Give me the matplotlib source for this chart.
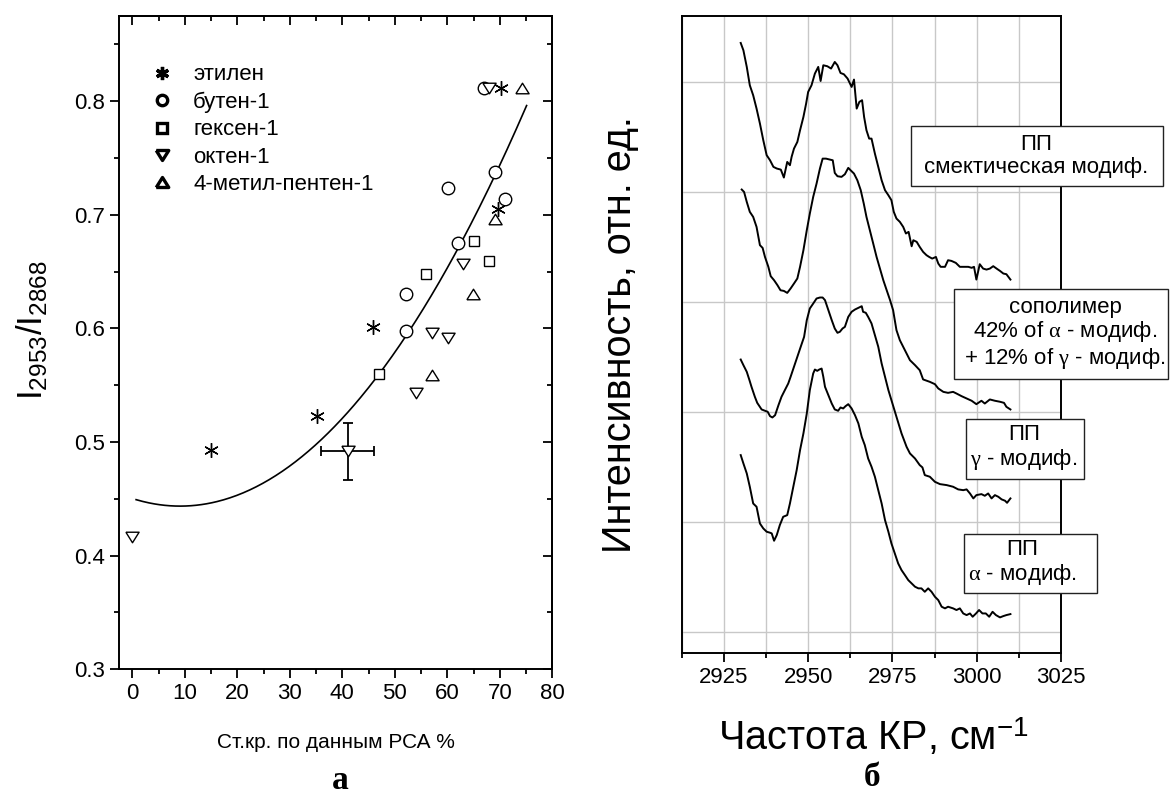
import numpy as np
import matplotlib
matplotlib.use("Agg")
import matplotlib.pyplot as plt
from matplotlib.lines import Line2D
from matplotlib.patches import Rectangle
from matplotlib.ticker import MultipleLocator

plt.rcParams["font.family"] = ["Liberation Sans", "DejaVu Sans"]
plt.rcParams["mathtext.fontset"] = "custom"
plt.rcParams["mathtext.rm"] = "Liberation Serif"
plt.rcParams["mathtext.it"] = "Liberation Serif:italic"
plt.rcParams["mathtext.bf"] = "Liberation Serif:bold"
plt.rcParams["mathtext.sf"] = "Liberation Sans"

# ---------------- panel (а): band ratio vs. crystallinity ----------------
ethylene_x = [15.0, 35.1, 45.9, 69.7, 70.3]
ethylene_y = [0.493, 0.523, 0.601, 0.705, 0.812]
butene_x = [52.1, 52.1, 60.1, 62.0, 67.0, 69.1, 71.0]
butene_y = [0.598, 0.630, 0.724, 0.675, 0.812, 0.738, 0.714]
hexene_x = [47.05, 55.9, 65.1, 68.0]
hexene_y = [0.560, 0.648, 0.677, 0.659]
octene_x = [0.0, 54.0, 57.0, 60.1, 63.05, 68.0]
octene_y = [0.416, 0.543, 0.596, 0.592, 0.657, 0.812]
mp_x = [57.0, 64.95, 69.1, 74.2]
mp_y = [0.559, 0.630, 0.696, 0.812]

# octene-1 point shown with its uncertainty
err_x, err_y = 41.0, 0.492
err_dx, err_dy = 5.0, 0.025

# quadratic trend (highest power first) and its x-range
fit_coef = [8.09e-5, -1.47e-3, 0.4503]
fit_range = (0.7, 75.1)

legend_labels = ["этилен", "бутен-1", "гексен-1", "октен-1", "4-метил-пентен-1"]

# ---------------- panel (б): Raman spectra ----------------
smectic_x = [2930.0, 2930.8, 2931.8, 2932.7, 2933.7, 2934.7, 2935.7, 2936.7, 2937.7, 2938.7,
             2939.7, 2940.7, 2941.9, 2942.8, 2943.8, 2944.6, 2945.1, 2945.8, 2946.8, 2947.6,
             2948.6, 2949.4, 2950.0, 2951.0, 2952.0, 2953.0, 2953.7, 2954.5, 2955.7, 2956.8,
             2957.9, 2958.7, 2959.6, 2960.6, 2961.7, 2962.9, 2963.6, 2964.4, 2965.2, 2966.0,
             2966.6, 2967.3, 2968.1, 2968.8, 2969.8, 2970.8, 2971.8, 2972.8, 2973.8, 2974.7,
             2975.4, 2976.2, 2977.2, 2978.2, 2979.0, 2979.8, 2980.7, 2981.2, 2982.2, 2983.1,
             2984.1, 2985.1, 2985.9, 2986.8, 2987.9, 2988.6, 2989.3, 2990.6, 2991.5, 2992.5,
             2993.8, 2995.0, 2996.3, 2997.5, 2998.5, 2999.2, 2999.9, 3000.9, 3001.9, 3002.9,
             3003.9, 3004.9, 3005.9, 3006.9, 3007.9, 3008.8, 3010.0]
smectic_y = [5.355, 5.288, 5.137, 4.970, 4.879, 4.758, 4.622, 4.470, 4.334, 4.288,
             4.228, 4.213, 4.203, 4.131, 4.273, 4.243, 4.319, 4.394, 4.455, 4.561,
             4.682, 4.803, 4.909, 4.970, 5.076, 5.137, 5.009, 5.152, 5.143, 5.122,
             5.182, 5.152, 5.082, 5.070, 5.031, 4.955, 5.022, 4.758, 4.819, 4.834,
             4.682, 4.561, 4.485, 4.485, 4.349, 4.228, 4.106, 4.016, 3.970, 3.925,
             3.819, 3.758, 3.728, 3.682, 3.622, 3.637, 3.506, 3.561, 3.546, 3.500,
             3.455, 3.425, 3.409, 3.394, 3.409, 3.349, 3.319, 3.319, 3.379, 3.373,
             3.355, 3.319, 3.319, 3.319, 3.310, 3.319, 3.203, 3.343, 3.303, 3.294,
             3.303, 3.325, 3.303, 3.282, 3.258, 3.252, 3.203]

copoly_x = [2930.3, 2931.0, 2931.8, 2932.7, 2933.7, 2934.7, 2935.7, 2936.5, 2937.2, 2938.2,
            2938.9, 2939.9, 2940.9, 2941.8, 2942.8, 2943.8, 2944.8, 2945.8, 2946.8, 2947.6,
            2948.6, 2949.6, 2950.5, 2951.5, 2952.5, 2953.5, 2954.3, 2955.3, 2956.5, 2957.3,
            2957.9, 2958.7, 2959.9, 2960.9, 2961.9, 2962.6, 2963.6, 2964.6, 2965.6, 2966.5,
            2967.3, 2968.3, 2969.3, 2970.3, 2971.3, 2972.3, 2973.3, 2974.3, 2975.2, 2976.2,
            2977.2, 2978.7, 2980.2, 2981.7, 2983.1, 2984.1, 2986.1, 2987.6, 2988.6, 2990.1,
            2991.5, 2993.0, 2994.0, 2995.5, 2997.0, 2998.5, 2999.9, 3001.4, 3002.4, 3003.9,
            3005.4, 3006.9, 3008.1, 3008.8, 3010.0]
copoly_y = [4.022, 4.000, 3.909, 3.819, 3.773, 3.682, 3.516, 3.491, 3.409, 3.319,
            3.234, 3.197, 3.152, 3.106, 3.100, 3.082, 3.122, 3.167, 3.213, 3.319,
            3.470, 3.652, 3.803, 3.955, 4.076, 4.213, 4.303, 4.303, 4.294, 4.288,
            4.173, 4.143, 4.137, 4.161, 4.219, 4.197, 4.167, 4.106, 4.016, 3.894,
            3.773, 3.652, 3.531, 3.409, 3.303, 3.197, 3.106, 3.016, 2.925, 2.743,
            2.652, 2.561, 2.470, 2.425, 2.379, 2.295, 2.273, 2.252, 2.213, 2.182,
            2.173, 2.182, 2.167, 2.143, 2.122, 2.101, 2.070, 2.101, 2.076, 2.113,
            2.101, 2.092, 2.082, 2.046, 2.022]

gamma_x = [2930.0, 2930.8, 2931.8, 2932.6, 2933.2, 2934.2, 2934.9, 2936.2, 2937.2, 2938.0,
           2938.7, 2939.4, 2940.2, 2941.2, 2942.1, 2943.1, 2944.1, 2944.8, 2945.8, 2946.8,
           2947.8, 2948.8, 2949.6, 2950.5, 2951.5, 2952.5, 2953.5, 2954.3, 2955.0, 2956.0,
           2957.0, 2957.9, 2958.7, 2959.4, 2960.2, 2960.9, 2961.9, 2962.9, 2963.9, 2964.9,
           2965.9, 2966.3, 2967.1, 2967.8, 2968.8, 2969.8, 2970.8, 2971.8, 2972.8, 2973.8,
           2974.7, 2976.2, 2977.7, 2979.2, 2980.2, 2981.7, 2983.1, 2983.9, 2984.6, 2986.1,
           2987.6, 2989.1, 2991.1, 2993.0, 2994.5, 2996.0, 2997.0, 2998.0, 2999.0, 2999.9,
           3001.4, 3002.4, 3003.4, 3004.4, 3005.4, 3006.4, 3007.4, 3008.4, 3009.0, 3010.0]
gamma_y = [2.476, 2.425, 2.364, 2.288, 2.228, 2.137, 2.082, 2.022, 2.010, 2.001,
           1.961, 1.949, 1.970, 2.061, 2.137, 2.198, 2.258, 2.319, 2.410, 2.501,
           2.592, 2.682, 2.834, 2.940, 2.985, 3.031, 3.040, 3.040, 3.016, 2.925,
           2.834, 2.758, 2.719, 2.728, 2.758, 2.773, 2.864, 2.910, 2.931, 2.946,
           2.961, 2.910, 2.901, 2.864, 2.804, 2.698, 2.592, 2.440, 2.319, 2.198,
           2.107, 1.955, 1.804, 1.682, 1.622, 1.576, 1.516, 1.495, 1.425, 1.410,
           1.364, 1.343, 1.334, 1.319, 1.295, 1.288, 1.295, 1.258, 1.213, 1.243,
           1.252, 1.237, 1.258, 1.213, 1.243, 1.228, 1.204, 1.192, 1.173, 1.213]

alpha_x = [2930.0, 2930.8, 2931.8, 2932.7, 2933.7, 2934.7, 2935.7, 2936.7, 2937.7, 2938.7,
           2939.2, 2939.9, 2940.7, 2941.6, 2942.6, 2943.8, 2944.6, 2945.6, 2946.6, 2947.6,
           2948.6, 2949.6, 2950.5, 2951.5, 2952.0, 2952.7, 2953.3, 2954.0, 2954.5, 2955.0,
           2956.0, 2957.0, 2957.9, 2958.9, 2959.6, 2960.4, 2961.1, 2961.9, 2962.9, 2963.9,
           2964.9, 2965.9, 2966.8, 2967.8, 2968.8, 2969.8, 2970.8, 2971.8, 2972.8, 2973.8,
           2974.7, 2975.7, 2976.7, 2977.7, 2978.7, 2979.7, 2980.7, 2981.7, 2982.7, 2983.6,
           2984.6, 2985.6, 2986.6, 2987.6, 2988.6, 2989.6, 2990.6, 2991.5, 2993.0, 2994.0,
           2995.0, 2996.0, 2997.0, 2998.0, 2998.8, 2999.8, 3000.7, 3001.7, 3002.7, 3003.7,
           3004.7, 3005.7, 3006.9, 3007.9, 3008.8, 3010.0]
alpha_y = [1.607, 1.531, 1.440, 1.319, 1.167, 1.137, 0.985, 0.940, 0.910, 0.901,
           0.895, 0.828, 0.880, 0.970, 1.046, 1.061, 1.167, 1.319, 1.470, 1.652,
           1.804, 1.985, 2.198, 2.349, 2.385, 2.373, 2.385, 2.394, 2.319, 2.228,
           2.152, 2.076, 2.022, 2.010, 2.040, 2.031, 2.052, 2.070, 2.031, 1.970,
           1.895, 1.773, 1.698, 1.576, 1.501, 1.410, 1.288, 1.167, 1.016, 0.910,
           0.804, 0.713, 0.622, 0.561, 0.516, 0.470, 0.440, 0.410, 0.395, 0.395,
           0.364, 0.395, 0.364, 0.319, 0.288, 0.228, 0.213, 0.228, 0.213, 0.198,
           0.213, 0.167, 0.152, 0.167, 0.137, 0.167, 0.198, 0.167, 0.167, 0.137,
           0.182, 0.152, 0.131, 0.143, 0.152, 0.161]

box_texts = [
    "ПП\nсмектическая модиф.",
    "сополимер\n42% of $\\mathrm{\\alpha}$ - модиф.\n+ 12% of $\\mathrm{\\gamma}$ - модиф.",
    "ПП\n$\\mathrm{\\gamma}$ - модиф.",
    "ПП\n$\\mathrm{\\alpha}$ - модиф.",
]

FS = 16

fig = plt.figure(figsize=(11.7, 7.96), dpi=100)

# ======================= panel (а) =======================
axA = fig.add_axes([0.10197, 0.15918, 0.37009, 0.82072])

tri_down = [(-1.0, 0.8), (1.0, 0.8), (0.0, -0.8), (-1.0, 0.8)]
tri_up = [(-1.0, -0.8), (1.0, -0.8), (0.0, 0.8), (-1.0, -0.8)]
mk = dict(ls="none", mfc="white", mec="black", mew=1.0)

xf = np.linspace(fit_range[0], fit_range[1], 300)
axA.plot(xf, np.polyval(fit_coef, xf), color="black", lw=1.2, zorder=2)

axA.errorbar([err_x], [err_y], xerr=[err_dx], yerr=[err_dy], fmt="none",
             ecolor="black", elinewidth=1.3, capsize=3.5, capthick=1.3, zorder=3)
axA.plot([err_x], [err_y], marker=tri_down, ms=9.5, zorder=4, **mk)

axA.plot(hexene_x, hexene_y, marker="s", ms=7.0, zorder=4, **mk)
axA.plot(butene_x, butene_y, marker="o", ms=9.0, zorder=4, **mk)
axA.plot(octene_x, octene_y, marker=tri_down, ms=9.5, zorder=4, **mk)
axA.plot(mp_x, mp_y, marker=tri_up, ms=9.5, zorder=4, **mk)
axA.plot(ethylene_x, ethylene_y, ls="none", marker=(6, 2, 0), ms=10.5,
         mec="black", mew=1.0, zorder=5)

handles = [
    Line2D([], [], ls="none", marker=(6, 2, 0), ms=9.5, mec="black", mew=2.4),
    Line2D([], [], ls="none", marker="o", ms=7.5, mfc="none", mec="black", mew=2.4),
    Line2D([], [], ls="none", marker="s", ms=6.5, mfc="none", mec="black", mew=2.4),
    Line2D([], [], ls="none", marker=tri_down, ms=9.0, mfc="none", mec="black", mew=2.4),
    Line2D([], [], ls="none", marker=tri_up, ms=9.0, mfc="none", mec="black", mew=2.4),
]
axA.legend(handles, legend_labels, loc="upper left", bbox_to_anchor=(0.0723, 0.926),
           frameon=False, fontsize=FS, handlelength=1.0, handletextpad=0.91,
           labelspacing=0.285, borderpad=0.0, borderaxespad=0.0)

axA.set_xlim(-2.5, 80)
axA.set_ylim(0.3, 0.875)
axA.xaxis.set_major_locator(MultipleLocator(10))
axA.xaxis.set_minor_locator(MultipleLocator(5))
axA.yaxis.set_major_locator(MultipleLocator(0.1))
axA.yaxis.set_minor_locator(MultipleLocator(0.05))
axA.tick_params(which="both", direction="out", width=1.3, labelsize=FS)
axA.tick_params(which="major", length=6.5)
axA.tick_params(which="minor", length=3.3)
for s in axA.spines.values():
    s.set_linewidth(1.4)

# mirrored inward ticks on the top and right edges
topA = axA.secondary_xaxis("top")
topA.xaxis.set_major_locator(MultipleLocator(10))
topA.xaxis.set_minor_locator(MultipleLocator(5))
rightA = axA.secondary_yaxis("right")
rightA.yaxis.set_major_locator(MultipleLocator(0.1))
rightA.yaxis.set_minor_locator(MultipleLocator(0.05))
for sec in (topA, rightA):
    sec.tick_params(which="both", direction="in", width=1.3,
                    labeltop=False, labelright=False)
    sec.tick_params(which="major", length=6.5)
    sec.tick_params(which="minor", length=3.3)
    for s in sec.spines.values():
        s.set_linewidth(1.4)

fig.text(336 / 1170, 1 - 742 / 796, "Ст.кр. по данным РСА %", ha="center",
         va="center", fontsize=15)
fig.text(32 / 1170, 1 - 330 / 796, r"$\mathsf{I_{2953}/I_{2868}}$", rotation=90,
         ha="center", va="center", fontsize=25)
fig.text(340 / 1170, 1 - 789 / 796, "а", ha="center", va="baseline",
         fontsize=24, fontweight="bold", family="Liberation Serif")

# ======================= panel (б) =======================
axB = fig.add_axes([0.58265, 0.18003, 0.32419, 0.79987])
for xs, ys in [(smectic_x, smectic_y), (copoly_x, copoly_y),
               (gamma_x, gamma_y), (alpha_x, alpha_y)]:
    axB.plot(xs, ys, color="black", lw=1.4, zorder=3)

axB.set_xlim(2912.5, 3025)
axB.set_ylim(-0.19, 5.6)
axB.xaxis.set_major_locator(MultipleLocator(25))
axB.xaxis.set_minor_locator(MultipleLocator(12.5))
axB.yaxis.set_major_locator(MultipleLocator(1))
axB.grid(True, which="both", axis="x", color="#c8c8c8", lw=1.0, zorder=0)
axB.grid(True, which="major", axis="y", color="#c8c8c8", lw=1.0, zorder=0)
axB.set_axisbelow(True)
axB.tick_params(axis="y", which="both", left=False, labelleft=False)
axB.tick_params(axis="x", which="both", direction="out", width=1.3, labelsize=FS)
axB.tick_params(axis="x", which="major", length=6.5)
axB.tick_params(axis="x", which="minor", length=3.5)
for s in axB.spines.values():
    s.set_linewidth(1.4)

# annotation boxes: (left, bottom, right, top) of frame, text centre (axes fraction)
box_frames = [(0.6037, 0.7335, 1.2697, 0.8272), (0.7179, 0.4299, 1.2821, 0.5708),
              (0.7487, 0.2728, 1.0607, 0.3666), (0.7443, 0.0933, 1.0957, 0.1860)]
box_centres = [(0.9338, 0.7801), (1.0106, 0.5006), (0.9025, 0.3210), (0.8972, 0.1404)]
for (l, b, r, t), (cx, cy), txt in zip(box_frames, box_centres, box_texts):
    axB.add_patch(Rectangle((l, b), r - l, t - b, transform=axB.transAxes,
                            facecolor="white", edgecolor="#222222", lw=1.0,
                            clip_on=False, zorder=6))
    axB.text(cx, cy, txt, transform=axB.transAxes, ha="center", va="center",
             multialignment="center", fontsize=FS, linespacing=1.1, zorder=7,
             clip_on=False)

fig.text(873 / 1170, 1 - 737 / 796, "Частота КР, см$^{\\mathsf{-1}}$", ha="center",
         va="center", fontsize=28.5)
fig.text(620 / 1170, 1 - 335 / 796, "Интенсивность, отн. ед.", rotation=90,
         ha="center", va="center", fontsize=28.5)
fig.text(872 / 1170, 1 - 786 / 796, "б", ha="center", va="baseline",
         fontsize=24, fontweight="bold", family="Liberation Serif")

fig.savefig("out.png", dpi=100)
